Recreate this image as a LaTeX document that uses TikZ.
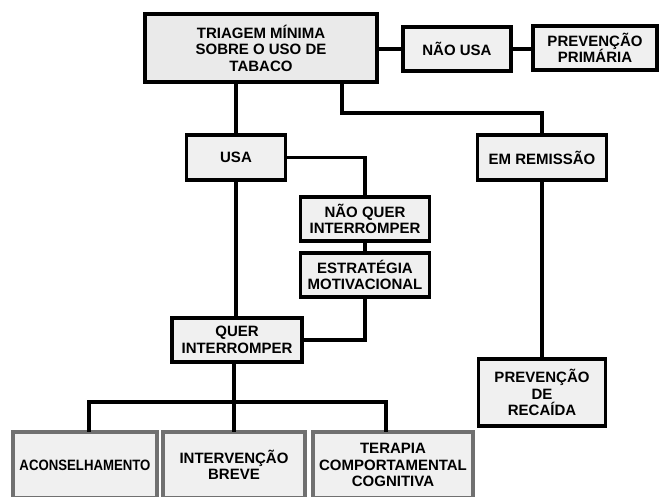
\documentclass[tikz,border=0pt]{standalone}
\usepackage{fontspec}
\setmainfont{Liberation Sans}
\definecolor{boxfill}{HTML}{F0F0F0}
\definecolor{topfill}{HTML}{EAEAEA}
\definecolor{greyedge}{HTML}{707070}
\tikzset{
  box/.style={draw=black, line width=3.3pt, fill=boxfill, inner sep=0pt, align=center,
    font=\fontsize{15}{16.5}\selectfont\bfseries},
  leaf/.style={draw=greyedge, line width=3.3pt, fill=boxfill, inner sep=0pt, align=center,
    font=\fontsize{15}{16.5}\selectfont\bfseries},
  link/.style={draw=black, line width=3.3pt, line cap=rect},
}
\begin{document}
\begin{tikzpicture}[x=1pt, y=-1pt]
\useasboundingbox[fill=white] (0,0) rectangle (659,496);
\coordinate (k1) at (342,113);
\coordinate (bus) at (234,402);
\coordinate (busL) at (89,402);
\coordinate (busR) at (386,402);
% boxes
\node[box, fill=topfill, minimum width=232, minimum height=68] (top) at (261,48) {TRIAGEM MÍNIMA\\SOBRE O USO DE\\TABACO};
\node[box, minimum width=108, minimum height=44] (naousa) at (457,49) {NÃO USA};
\node[box, minimum width=124, minimum height=44] (pp) at (595,48) {PREVENÇÃO\\PRIMÁRIA};
\node[box, minimum width=99, minimum height=45] (usa) at (236,157.5) {USA};
\node[box, minimum width=129, minimum height=45] (emr) at (542,157.5) {EM REMISSÃO};
\node[box, minimum width=129, minimum height=44] (nqi) at (365,219) {NÃO QUER\\INTERROMPER};
\node[box, minimum width=129, minimum height=44] (est) at (365,275) {ESTRATÉGIA\\MOTIVACIONAL};
\node[box, minimum width=130, minimum height=44] (quer) at (237,340) {QUER\\INTERROMPER};
\node[box, minimum width=127, minimum height=67] (prr) at (542,392.5) {PREVENÇÃO\\DE\\RECAÍDA};
\node[leaf, minimum width=144, minimum height=66] (acon) at (85,465) {\scalebox{0.88}[1]{ACONSELHAMENTO}};
\node[leaf, minimum width=142, minimum height=66] (interv) at (234,465) {INTERVENÇÃO\\BREVE};
\node[leaf, minimum width=160, minimum height=66] (tera) at (393,465) {TERAPIA\\COMPORTAMENTAL\\COGNITIVA};
% connectors
\draw[link] (top.east |- naousa.west) -- (naousa.west);
\draw[link] (naousa.east) -- (pp.west |- naousa.east);
\draw[link] (top.south -| usa.north) -- (usa.north);
\draw[link] (top.south -| k1) -- (k1) -| (emr.north);
\draw[link] (usa.east) -| (nqi.north);
\draw[link] (nqi.south) -- (est.north);
\draw[link] (est.south) |- (quer.east);
\draw[link] (usa.south) -- (quer.north -| usa.south);
\draw[link] (quer.south -| bus) -- (interv.north -| bus);
\draw[link] (busL) -- (busR);
\draw[link] (busL) -- (acon.north -| busL);
\draw[link] (busR) -- (tera.north -| busR);
\draw[link] (emr.south) -- (prr.north);
\end{tikzpicture}
\end{document}
